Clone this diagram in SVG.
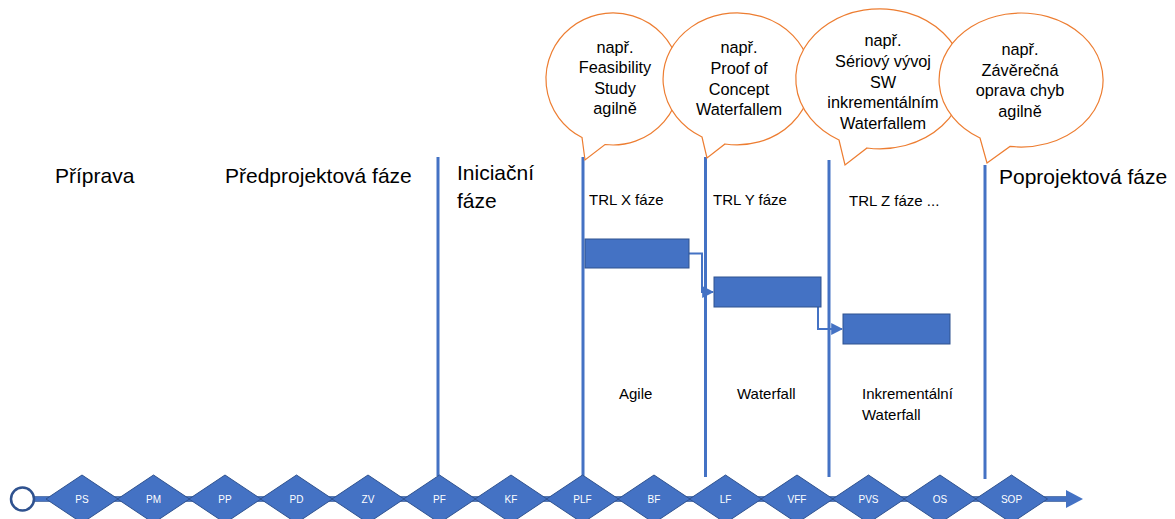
<svg xmlns="http://www.w3.org/2000/svg" width="1175" height="519" viewBox="0 0 1175 519">
<style>
.lbl{font-family:"Liberation Sans",Arial,sans-serif;font-size:21px;fill:#000}
.trl{font-family:"Liberation Sans",Arial,sans-serif;font-size:15px;fill:#000}
.co{font-family:"Liberation Sans",Arial,sans-serif;font-size:16.3px;fill:#000;text-anchor:middle}
.callout{fill:#fff;stroke:#ED7D31;stroke-width:1.2}
.vline{stroke:#4472C4;stroke-width:3;fill:none}
.bar{fill:#4472C4;stroke:#2F528F;stroke-width:1}
.link{stroke:#4472C4;stroke-width:2;fill:none}
.ms{fill:#4472C4;stroke:#2F528F;stroke-width:1}
.mst{font-family:"Liberation Sans",Arial,sans-serif;font-size:10px;fill:#fff;text-anchor:middle}
</style>
<defs>
<marker id="ah" viewBox="0 0 10 10" refX="9" refY="5" markerWidth="6" markerHeight="6" orient="auto" markerUnits="strokeWidth">
<path d="M0,0 L10,5 L0,10 Z" fill="#4472C4"/>
</marker>
</defs>
<rect width="1175" height="519" fill="#fff"/>

<g id="connectors">
<line class="vline" x1="438" y1="157" x2="438" y2="476"/>
<line class="vline" x1="583" y1="157" x2="583" y2="476"/>
<line class="vline" x1="705.5" y1="157" x2="705.5" y2="477"/>
<line class="vline" x1="829" y1="160" x2="829" y2="477"/>
<line class="vline" x1="985" y1="165" x2="985" y2="479"/>
<path class="link" d="M689,253.5 H702 V292 H713" marker-end="url(#ah)"/>
<path class="link" d="M818,307 V329 H842" marker-end="url(#ah)"/>
<rect x="34" y="496.5" width="1034" height="5" fill="#4472C4" stroke="#2F528F" stroke-width="0.6"/>
<polygon points="1066,490 1083,499 1066,508" fill="#4472C4"/>
</g>

<g id="label-priprava"><text class="lbl" x="55" y="183">Příprava</text></g>
<g id="label-predprojektova"><text class="lbl" x="225" y="183">Předprojektová fáze</text></g>
<g id="label-iniciacni"><text class="lbl" x="457" y="180">Iniciační</text><text class="lbl" x="457" y="208">fáze</text></g>
<g id="label-poprojektova"><text class="lbl" x="999" y="184">Poprojektová fáze</text></g>

<g id="label-trlx"><text class="trl" x="589" y="205">TRL X fáze</text></g>
<g id="label-trly"><text class="trl" x="713" y="205">TRL Y fáze</text></g>
<g id="label-trlz"><text class="trl" x="849" y="206">TRL Z fáze ...</text></g>

<g id="label-agile"><text class="trl" x="619" y="399">Agile</text></g>
<g id="label-waterfall"><text class="trl" x="737" y="399">Waterfall</text></g>
<g id="label-inkrementalni"><text class="trl" x="862" y="399">Inkrementální</text><text class="trl" x="862" y="420">Waterfall</text></g>

<g id="bar-x"><rect class="bar" x="585" y="239" width="104" height="29"/></g>
<g id="bar-y"><rect class="bar" x="714" y="277" width="107" height="30"/></g>
<g id="bar-z"><rect class="bar" x="843" y="314" width="107" height="30"/></g>

<g id="callout-1">
<path class="callout" d="M605,144.5 A67,66 0 1 0 582,137.5 L585,160 Z"/>
<text class="co" x="615" y="53">např.</text>
<text class="co" x="615" y="73">Feasibility</text>
<text class="co" x="615" y="94">Study</text>
<text class="co" x="615" y="114">agilně</text>
</g>
<g id="callout-2">
<path class="callout" d="M725,144 A74,66 0 1 0 702,137 L707,158 Z"/>
<text class="co" x="739" y="53">např.</text>
<text class="co" x="739" y="74">Proof of</text>
<text class="co" x="739" y="95">Concept</text>
<text class="co" x="739" y="115">Waterfallem</text>
</g>
<g id="callout-3">
<path class="callout" d="M867,148 A84,70 0 1 0 839,140 L845,165 Z"/>
<text class="co" x="883" y="46">např.</text>
<text class="co" x="883" y="67">Sériový vývoj</text>
<text class="co" x="883" y="88">SW</text>
<text class="co" x="883" y="108">inkrementálním</text>
<text class="co" x="883" y="129">Waterfallem</text>
</g>
<g id="callout-4">
<path class="callout" d="M1010,146.4 A82,67 0 1 0 980,138 L987,163 Z"/>
<text class="co" x="1020" y="55">např.</text>
<text class="co" x="1020" y="76">Závěrečná</text>
<text class="co" x="1020" y="96">oprava chyb</text>
<text class="co" x="1020" y="117">agilně</text>
</g>

<g id="start"><circle cx="22.5" cy="499" r="11.5" fill="#fff" stroke="#2F528F" stroke-width="2.5"/></g>

<g id="ms-PS"><polygon class="ms" points="46,499 82,475 118,499 82,523"/><text class="mst" x="82" y="502.5">PS</text></g>
<g id="ms-PM"><polygon class="ms" points="117.5,499 153.5,475 189.5,499 153.5,523"/><text class="mst" x="153.5" y="502.5">PM</text></g>
<g id="ms-PP"><polygon class="ms" points="189,499 225,475 261,499 225,523"/><text class="mst" x="225" y="502.5">PP</text></g>
<g id="ms-PD"><polygon class="ms" points="260.5,499 296.5,475 332.5,499 296.5,523"/><text class="mst" x="296.5" y="502.5">PD</text></g>
<g id="ms-ZV"><polygon class="ms" points="332,499 368,475 404,499 368,523"/><text class="mst" x="368" y="502.5">ZV</text></g>
<g id="ms-PF"><polygon class="ms" points="403.5,499 439.5,475 475.5,499 439.5,523"/><text class="mst" x="439.5" y="502.5">PF</text></g>
<g id="ms-KF"><polygon class="ms" points="475,499 511,475 547,499 511,523"/><text class="mst" x="511" y="502.5">KF</text></g>
<g id="ms-PLF"><polygon class="ms" points="546.5,499 582.5,475 618.5,499 582.5,523"/><text class="mst" x="582.5" y="502.5">PLF</text></g>
<g id="ms-BF"><polygon class="ms" points="618,499 654,475 690,499 654,523"/><text class="mst" x="654" y="502.5">BF</text></g>
<g id="ms-LF"><polygon class="ms" points="689.5,499 725.5,475 761.5,499 725.5,523"/><text class="mst" x="725.5" y="502.5">LF</text></g>
<g id="ms-VFF"><polygon class="ms" points="761,499 797,475 833,499 797,523"/><text class="mst" x="797" y="502.5">VFF</text></g>
<g id="ms-PVS"><polygon class="ms" points="832.5,499 868.5,475 904.5,499 868.5,523"/><text class="mst" x="868.5" y="502.5">PVS</text></g>
<g id="ms-OS"><polygon class="ms" points="904,499 940,475 976,499 940,523"/><text class="mst" x="940" y="502.5">OS</text></g>
<g id="ms-SOP"><polygon class="ms" points="975.5,499 1011.5,475 1047.5,499 1011.5,523"/><text class="mst" x="1011.5" y="502.5">SOP</text></g>
</svg>
